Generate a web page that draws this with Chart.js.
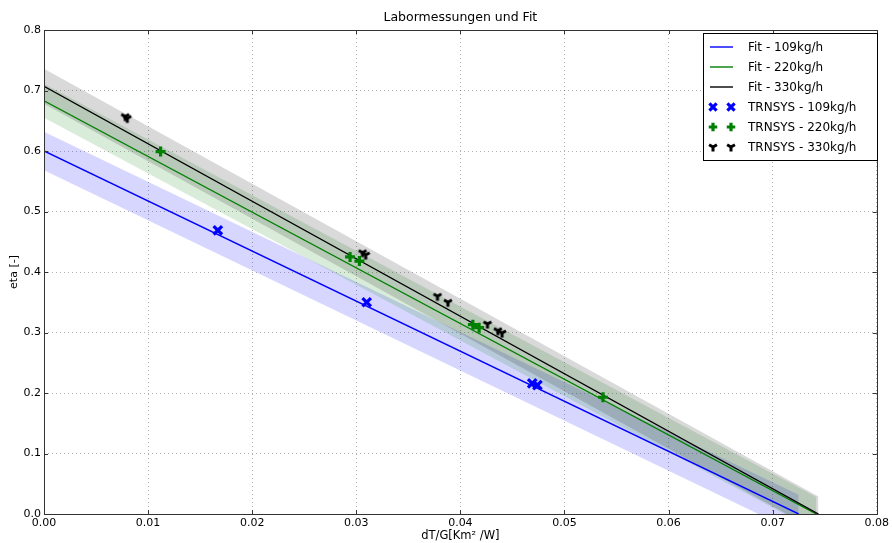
<!DOCTYPE html>
<html>
<head>
<meta charset="utf-8">
<script src="https://cdn.jsdelivr.net/npm/chart.js@4/dist/chart.umd.min.js"></script>
<style>
  body { margin: 0; background: #fff; }
  canvas { display: block; }
</style>
</head>
<body>
<canvas id="chart" width="892" height="543"></canvas>
<script>
// fit lines: intercept at x=0, end where eta hits 0, band half width
var fitLabels = ["Fit - 109kg/h", "Fit - 220kg/h", "Fit - 330kg/h"];
var fitColors = ["#0000ff", "#008000", "#000000"];
var bandColors = ["rgba(0,0,255,0.16)", "rgba(0,128,0,0.15)", "rgba(0,0,0,0.15)"];
var fitIntercept = [0.600, 0.683, 0.707];
var fitEnd = [0.0725, 0.0742, 0.0744];
var bandHalf = [0.032, 0.028, 0.029];

// TRNSYS measurement points
var trn109X = [0.0167, 0.0310, 0.0469, 0.0474];
var trn109Y = [0.469, 0.350, 0.216, 0.213];
var trn220X = [0.0112, 0.0294, 0.0303, 0.0412, 0.0418, 0.0537];
var trn220Y = [0.599, 0.425, 0.418, 0.313, 0.308, 0.193];
var trn330X = [0.0078, 0.0080, 0.0306, 0.0309, 0.0378, 0.0388, 0.0426, 0.0436, 0.0440];
var trn330Y = [0.657, 0.654, 0.432, 0.428, 0.360, 0.350, 0.314, 0.303, 0.299];

var xTicks = [0, 0.01, 0.02, 0.03, 0.04, 0.05, 0.06, 0.07, 0.08];
var yTicks = [0, 0.1, 0.2, 0.3, 0.4, 0.5, 0.6, 0.7, 0.8];

function pts(xs, ys) {
  var out = [];
  for (var i = 0; i < xs.length; i++) out.push({ x: xs[i], y: ys[i] });
  return out;
}

// matplotlib style "1" marker (tri_down)
function makeTri(size, color) {
  var c = document.createElement("canvas");
  c.width = size; c.height = size;
  var g = c.getContext("2d");
  var r = size / 2 - 1.5;
  g.translate(size / 2, size / 2);
  g.strokeStyle = color;
  g.lineWidth = 3;
  g.lineCap = "butt";
  g.beginPath();
  g.moveTo(0, 0); g.lineTo(0, r);
  g.moveTo(0, 0); g.lineTo(-0.87 * r, -0.5 * r);
  g.moveTo(0, 0); g.lineTo(0.87 * r, -0.5 * r);
  g.stroke();
  return c;
}
var triMarker = makeTri(12, "#000");

var datasets = [];
// bands: upper with fill to the lower one
for (var i = 0; i < 3; i++) {
  var b = bandHalf[i];
  datasets.push({
    label: "band" + i,
    data: [{ x: 0, y: fitIntercept[i] + b }, { x: fitEnd[i], y: b }],
    borderWidth: 0, pointRadius: 0, backgroundColor: bandColors[i],
    fill: "+1", order: 20 - i * 2
  });
  datasets.push({
    label: "bandlow" + i,
    data: [{ x: 0, y: fitIntercept[i] - b }, { x: fitEnd[i], y: -b }],
    borderWidth: 0, pointRadius: 0, fill: false, order: 19 - i * 2
  });
}
for (var i = 0; i < 3; i++) {
  datasets.push({
    label: fitLabels[i],
    data: [{ x: 0, y: fitIntercept[i] }, { x: fitEnd[i], y: 0 }],
    borderColor: fitColors[i], borderWidth: 1.4, pointRadius: 0,
    fill: false, order: 10 - i, legendType: "line"
  });
}
datasets.push({
  label: "TRNSYS - 109kg/h", type: "scatter", data: pts(trn109X, trn109Y),
  pointStyle: "crossRot", pointRadius: 6, borderColor: "#0000ff", borderWidth: 3.2,
  order: 3, legendType: "point"
});
datasets.push({
  label: "TRNSYS - 220kg/h", type: "scatter", data: pts(trn220X, trn220Y),
  pointStyle: "cross", pointRadius: 5, borderColor: "#008000", borderWidth: 3.2,
  order: 2, legendType: "point"
});
datasets.push({
  label: "TRNSYS - 330kg/h", type: "scatter", data: pts(trn330X, trn330Y),
  pointStyle: triMarker, pointRadius: 6, borderColor: "#000", borderWidth: 3,
  order: 1, legendType: "point"
});

var FONT = "'DejaVu Sans', sans-serif";

var framePlugin = {
  id: "frame",
  afterDraw: function (chart) {
    var ctx = chart.ctx;
    var a = chart.chartArea;
    var xs = chart.scales.x, ys = chart.scales.y;
    ctx.save();
    ctx.strokeStyle = "#333";
    ctx.lineWidth = 1;
    // inward ticks
    ctx.beginPath();
    xTicks.forEach(function (v) {
      var px = Math.round(xs.getPixelForValue(v)) + 0.5;
      ctx.moveTo(px, a.bottom); ctx.lineTo(px, a.bottom - 4);
      ctx.moveTo(px, a.top); ctx.lineTo(px, a.top + 4);
    });
    yTicks.forEach(function (v) {
      var py = Math.round(ys.getPixelForValue(v)) + 0.5;
      ctx.moveTo(a.left, py); ctx.lineTo(a.left + 4, py);
      ctx.moveTo(a.right, py); ctx.lineTo(a.right - 4, py);
    });
    ctx.stroke();
    ctx.strokeRect(Math.round(a.left) + 0.5, Math.round(a.top) + 0.5,
      Math.round(a.right - a.left), Math.round(a.bottom - a.top));

    // title
    ctx.fillStyle = "#000";
    ctx.font = "12.5px " + FONT;
    ctx.textAlign = "center";
    ctx.textBaseline = "middle";
    ctx.fillText("Labormessungen und Fit", (a.left + a.right) / 2, 18);

    // legend in matplotlib style
    var lx = 703, ly = 33, lw = 174, lh = 127;
    ctx.fillStyle = "#fff";
    ctx.fillRect(lx, ly, lw, lh);
    ctx.strokeStyle = "#000";
    ctx.strokeRect(lx + 0.5, ly + 0.5, lw, lh);
    var items = chart.data.datasets.filter(function (d) { return d.legendType; });
    ctx.font = "12px " + FONT;
    ctx.textAlign = "left";
    items.forEach(function (d, k) {
      var yy = ly + 14 + k * 20;
      if (d.legendType === "line") {
        ctx.strokeStyle = d.borderColor;
        ctx.lineWidth = 1.4;
        ctx.beginPath();
        ctx.moveTo(710, yy); ctx.lineTo(733, yy);
        ctx.stroke();
      } else {
        ctx.strokeStyle = d.borderColor;
        ctx.fillStyle = d.borderColor;
        ctx.lineWidth = d.borderWidth;
        var o = { pointStyle: d.pointStyle, radius: d.pointRadius * 0.85, rotation: 0, borderWidth: d.borderWidth };
        Chart.helpers.drawPoint(ctx, o, 713, yy);
        Chart.helpers.drawPoint(ctx, o, 731, yy);
      }
      ctx.fillStyle = "#000";
      ctx.fillText(d.label, 748, yy + 1);
    });
    ctx.restore();
  }
};

new Chart(document.getElementById("chart"), {
  type: "line",
  data: { datasets: datasets },
  options: {
    responsive: false,
    animation: false,
    layout: { padding: { top: 30, right: 14, left: 0, bottom: 0 } },
    plugins: {
      legend: { display: false },
      title: { display: false },
      tooltip: { enabled: false }
    },
    scales: {
      x: {
        type: "linear", min: 0, max: 0.08,
        afterBuildTicks: function (s) { s.ticks = xTicks.map(function (v) { return { value: v }; }); },
        afterFit: function (s) { s.height = 29; },
        ticks: {
          color: "#000", padding: 3, maxRotation: 0,
          font: { family: FONT, size: 11 },
          callback: function (v) { return Number(v).toFixed(2); }
        },
        grid: { color: "rgba(0,0,0,0.3)", drawTicks: false, lineWidth: 1 },
        border: { display: false, dash: [1, 3] },
        title: {
          display: true, text: "dT/G[Km² /W]", color: "#000",
          font: { family: FONT, size: 11.5 }, padding: { top: 0, bottom: 0 }
        }
      },
      y: {
        type: "linear", min: 0, max: 0.8,
        afterBuildTicks: function (s) { s.ticks = yTicks.map(function (v) { return { value: v }; }); },
        afterFit: function (s) { s.width = 44; },
        ticks: {
          color: "#000", padding: 3,
          font: { family: FONT, size: 11 },
          callback: function (v) { return Number(v).toFixed(1); }
        },
        grid: { color: "rgba(0,0,0,0.3)", drawTicks: false, lineWidth: 1 },
        border: { display: false, dash: [1, 3] },
        title: {
          display: true, text: "eta [-]", color: "#000",
          font: { family: FONT, size: 11 }, padding: { top: 8, bottom: 0 }
        }
      }
    }
  },
  plugins: [framePlugin]
});
</script>
</body>
</html>
